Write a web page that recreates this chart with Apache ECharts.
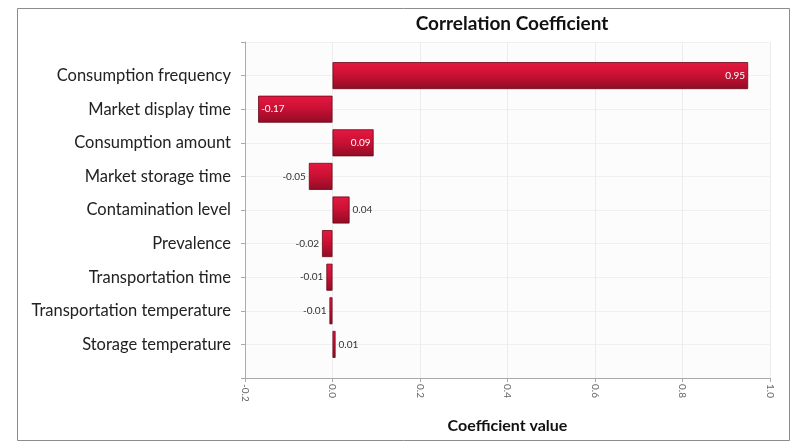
<!DOCTYPE html>
<html><head><meta charset="utf-8">
<script src="https://cdn.jsdelivr.net/npm/echarts@6/dist/echarts.min.js"></script>
<style>html,body{margin:0;padding:0;background:#fff}#c{width:805px;height:444px}</style>
</head><body><div id="c"></div>
<script>
const categories = ['Consumption frequency','Market display time','Consumption amount','Market storage time','Contamination level','Prevalence','Transportation time','Transportation temperature','Storage temperature'];
const values = [0.95, -0.17, 0.094, -0.054, 0.039, -0.024, -0.014, -0.007, 0.007];
const insideLabel = [true, true, true, false, false, false, false, false, false];
const xTicks = [-0.2, 0.0, 0.2, 0.4, 0.6, 0.8, 1.0];

const cats = [''].concat(categories, ['']);
const grad = new echarts.graphic.LinearGradient(0, 0, 0, 1, [
  {offset: 0, color: '#e51840'},
  {offset: 0.45, color: '#cc1134'},
  {offset: 1, color: '#900c25'}
]);
const data = [null].concat(values.map((v, i) => {
  const inside = insideLabel[i];
  return {
    value: v,
    label: {
      show: true,
      position: inside ? (v >= 0 ? 'insideRight' : 'insideLeft') : (v >= 0 ? 'right' : 'left'),
      color: inside ? '#ffffff' : '#333333',
      fontSize: 10,
      fontFamily: 'Lato',
      distance: 3,
      formatter: p => p.value.toFixed(2)
    }
  };
}), [null]);

const chart = echarts.init(document.getElementById('c'), null, {renderer: 'canvas'});
chart.setOption({
  animation: false,
  title: {
    text: 'Correlation Coefficient', left: 507, top: 9, textAlign: 'center',
    textStyle: {fontFamily: 'Lato', fontSize: 19, fontWeight: 'bold', color: '#111'}
  },
  graphic: [{type: 'rect', left: 15, top: 6, shape: {width: 772, height: 432}, style: {fill: 'none', stroke: '#8c8c8c', lineWidth: 1}, silent: true}],
  grid: {left: 245, right: 35, top: 42, bottom: 66, backgroundColor: '#fcfcfc', show: true, borderWidth: 0},
  xAxis: {
    type: 'value', min: xTicks[0], max: xTicks[xTicks.length - 1], interval: 0.2,
    name: 'Coefficient value', nameLocation: 'middle', nameGap: 40,
    nameTextStyle: {fontFamily: 'Lato', fontSize: 16, fontWeight: 'bold', color: '#111'},
    axisLine: {show: true, onZero: false, lineStyle: {color: '#aaaaaa'}},
    axisTick: {show: true, length: 4, lineStyle: {color: '#aaaaaa'}},
    axisLabel: {rotate: -90, fontSize: 10, color: '#666', fontFamily: 'Lato', margin: 6, formatter: v => v.toFixed(1)},
    splitLine: {show: true, lineStyle: {color: '#ececec'}}
  },
  yAxis: {
    type: 'category', data: cats, inverse: true, boundaryGap: false,
    axisLine: {show: true, onZero: false, lineStyle: {color: '#aaaaaa'}},
    axisTick: {show: true, length: 4, lineStyle: {color: '#aaaaaa'}},
    axisLabel: {fontSize: 16.5, color: '#222', fontFamily: 'Lato', margin: 14},
    splitLine: {show: true, lineStyle: {color: '#f0f0f0'}}
  },
  series: [{
    type: 'bar', data: data, barWidth: 27,
    itemStyle: {color: grad, borderColor: '#6a0818', borderWidth: 0.8}
  }]
});
</script></body></html>
